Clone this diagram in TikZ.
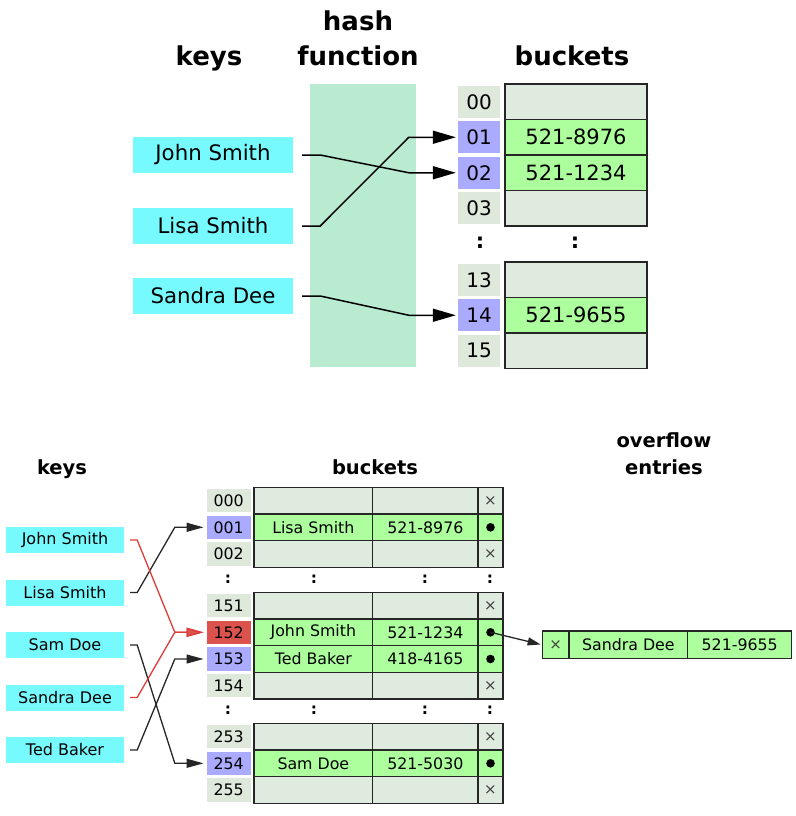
\documentclass[tikz,border=0pt]{standalone}
\usepackage{fontspec}
\setmainfont{DejaVu Sans}
\usetikzlibrary{arrows.meta}
\definecolor{keyc}{RGB}{119,250,253}
\definecolor{hashc}{RGB}{184,235,208}
\definecolor{idxc}{RGB}{222,233,220}
\definecolor{selc}{RGB}{170,170,255}
\definecolor{redc}{RGB}{219,83,76}
\definecolor{emptyc}{RGB}{224,235,223}
\definecolor{fullc}{RGB}{172,255,156}
\definecolor{linec}{RGB}{222,60,55}
\newcommand{\brow}[6]{%
  \node[bidx,fill=#2] (i#1) at (228.7,#3) {#1};
  \node[bcell,fill=#4,minimum width=118.7pt] (n#1) at (313.35,#3) {#5};
  \node[bcell,fill=#4,minimum width=105.3pt] (p#1) at (425.35,#3) {#6};
}
\begin{document}
\begin{tikzpicture}[x=1pt,y=-1pt,
  ttl/.style={font=\fontsize{26}{30}\selectfont\bfseries, inner sep=0, anchor=base},
  bttl/.style={font=\fontsize{19.5}{23}\selectfont\bfseries, inner sep=0, anchor=base},
  tkey/.style={fill=keyc, minimum width=160pt, minimum height=36pt, inner sep=0, font=\fontsize{21.3}{25}\selectfont},
  ttab/.style={draw=black!85, line width=1.5pt, minimum width=142pt, minimum height=35.5pt, inner sep=0, font=\fontsize{21}{25}\selectfont},
  tidx/.style={minimum width=42pt, minimum height=32pt, inner sep=0, font=\fontsize{20}{24}\selectfont},
  tcolon/.style={inner sep=0, font=\fontsize{21}{25}\selectfont\bfseries},
  conn/.style={draw=black, line width=1.5pt, -{Triangle[length=23pt,width=13pt]}, shorten <=9pt, shorten >=2pt},
  bkey/.style={fill=keyc, minimum width=118pt, minimum height=26pt, inner sep=0, font=\fontsize{16}{19}\selectfont},
  bcell/.style={draw=black!85, line width=1.4pt, minimum height=26.67pt, inner sep=0, font=\fontsize{15.8}{18}\selectfont},
  bmark/.style={draw=black!85, line width=1.4pt, minimum height=26.67pt, minimum width=25pt, inner sep=0, font=\fontsize{15}{17}\selectfont, text=black!75},
  bidx/.style={minimum width=44pt, minimum height=23.5pt, inner sep=0, font=\fontsize{15.8}{18}\selectfont},
  bcolon/.style={inner sep=0, font=\fontsize{15.5}{18}\selectfont\bfseries},
  bconn/.style={draw=black!85, line width=1.3pt, -{Triangle[length=17pt,width=9pt]}, shorten <=6pt, shorten >=3pt},
  rconn/.style={bconn, draw=linec, -{Triangle[length=17pt,width=9pt,fill=redc]}}
]
\useasboundingbox (0,0) rectangle (795,816);

% ---------- top diagram ----------
\node[ttl] (tkeys) at (209,65.7) {keys};
\node[ttl] (thash) at (358,30.7) {hash};
\node[ttl] (tfun) at (358,65.7) {function};
\node[ttl] (tbuck) at (572,65.7) {buckets};

\node[fill=hashc, minimum width=106pt, minimum height=283pt, inner sep=0, anchor=north west] (hf) at (310,84) {};

\node[tkey] (js) at (213,155) {John Smith};
\node[tkey] (ls) at (213,226) {Lisa Smith};
\node[tkey] (sd) at (213,296) {Sandra Dee};

\node[ttab, fill=emptyc] (c00) at (576,101.75) {};
\node[ttab, fill=fullc] (c01) at (576,137.25) {521-8976};
\node[ttab, fill=fullc] (c02) at (576,172.75) {521-1234};
\node[ttab, fill=emptyc] (c03) at (576,208.25) {};
\node[ttab, fill=emptyc] (c13) at (576,279.75) {};
\node[ttab, fill=fullc] (c14) at (576,315.25) {521-9655};
\node[ttab, fill=emptyc] (c15) at (576,350.75) {};

\node[tidx, fill=idxc] (t00) at (479,101.75) {00};
\node[tidx, fill=selc] (t01) at (479,137.25) {01};
\node[tidx, fill=selc] (t02) at (479,172.75) {02};
\node[tidx, fill=idxc] (t03) at (479,208.25) {03};
\node[tidx, fill=idxc] (t13) at (479,279.75) {13};
\node[tidx, fill=selc] (t14) at (479,315.25) {14};
\node[tidx, fill=idxc] (t15) at (479,350.75) {15};

\node[tcolon] (tc1) at (480,243) {:};
\node[tcolon] (tc2) at (575,243) {:};

\draw[conn] (js.east) -- ++(27,0) -- ([xshift=-49pt]t02.west) -- (t02.west);
\draw[conn] (ls.east) -- ++(27,0) -- ([xshift=-49pt]t01.west) -- (t01.west);
\draw[conn] (sd.east) -- ++(27,0) -- ([xshift=-49pt]t14.west) -- (t14.west);

% ---------- bottom diagram ----------
\node[bttl] (bkeys) at (62,474) {keys};
\node[bttl] (bbuck) at (375,474) {buckets};
\node[bttl] (bover) at (664,447.5) {overflow};
\node[bttl] (bent) at (664,474) {entries};

\node[bkey] (bjs) at (65,540) {John Smith};
\node[bkey] (bls) at (65,592.5) {Lisa Smith};
\node[bkey] (bsam) at (65,645) {Sam Doe};
\node[bkey] (bsd) at (65,697.5) {Sandra Dee};
\node[bkey] (btb) at (65,750) {Ted Baker};

\brow{000}{idxc}{500.6}{emptyc}{}{}
\brow{001}{selc}{527.3}{fullc}{Lisa Smith}{521-8976}
\brow{002}{idxc}{554}{emptyc}{}{}
\brow{151}{idxc}{605.6}{emptyc}{}{}
\brow{152}{redc}{632.3}{fullc}{John Smith}{521-1234}
\brow{153}{selc}{659}{fullc}{Ted Baker}{418-4165}
\brow{154}{idxc}{685.6}{emptyc}{}{}
\brow{253}{idxc}{736.6}{emptyc}{}{}
\brow{254}{selc}{763.3}{fullc}{Sam Doe}{521-5030}
\brow{255}{idxc}{790}{emptyc}{}{}

\node[bmark, fill=emptyc] (m000) at (490.5,500.6) {×};
\node[bmark, fill=fullc] (m001) at (490.5,527.3) {};
\node[bmark, fill=emptyc] (m002) at (490.5,554) {×};
\node[bmark, fill=emptyc] (m151) at (490.5,605.6) {×};
\node[bmark, fill=fullc] (m152) at (490.5,632.3) {};
\node[bmark, fill=fullc] (m153) at (490.5,659) {};
\node[bmark, fill=emptyc] (m154) at (490.5,685.6) {×};
\node[bmark, fill=emptyc] (m253) at (490.5,736.6) {×};
\node[bmark, fill=fullc] (m254) at (490.5,763.3) {};
\node[bmark, fill=emptyc] (m255) at (490.5,790) {×};
\foreach \m in {m001,m152,m153,m254} \fill (\m.center) circle (4.3pt);

\foreach \y [count=\k] in {579,710} {
  \node[bcolon] (ca\k) at (228,\y) {:};
  \node[bcolon] (cb\k) at (314,\y) {:};
  \node[bcolon] (cc\k) at (425,\y) {:};
  \node[bcolon] (cd\k) at (490,\y) {:};
}

\node[bmark, fill=fullc, minimum width=26.7pt, minimum height=27.3pt] (o1) at (555.65,644.7) {×};
\node[bcell, fill=fullc, minimum width=118.7pt, minimum height=27.3pt] (o2) at (628.35,644.7) {Sandra Dee};
\node[bcell, fill=fullc, minimum width=104pt, minimum height=27.3pt] (o3) at (739.7,644.7) {521-9655};

\draw[bconn, shorten <=0pt, shorten >=1pt, -{Triangle[length=13pt,width=8pt]}] (m152.center) -- (o1.west);

\draw[bconn] (bls.east) -- ++(13,0) -- ([xshift=-31.7pt]i001.west) -- (i001.west);
\draw[bconn] (bsam.east) -- ++(13,0) -- ([xshift=-31.7pt]i254.west) -- (i254.west);
\draw[bconn] (btb.east) -- ++(13,0) -- ([xshift=-31.7pt]i153.west) -- (i153.west);
\draw[rconn] (bjs.east) -- ++(13,0) -- ([xshift=-31.7pt]i152.west) -- (i152.west);
\draw[rconn] (bsd.east) -- ++(13,0) -- ([xshift=-31.7pt]i152.west) -- (i152.west);
\end{tikzpicture}
\end{document}
